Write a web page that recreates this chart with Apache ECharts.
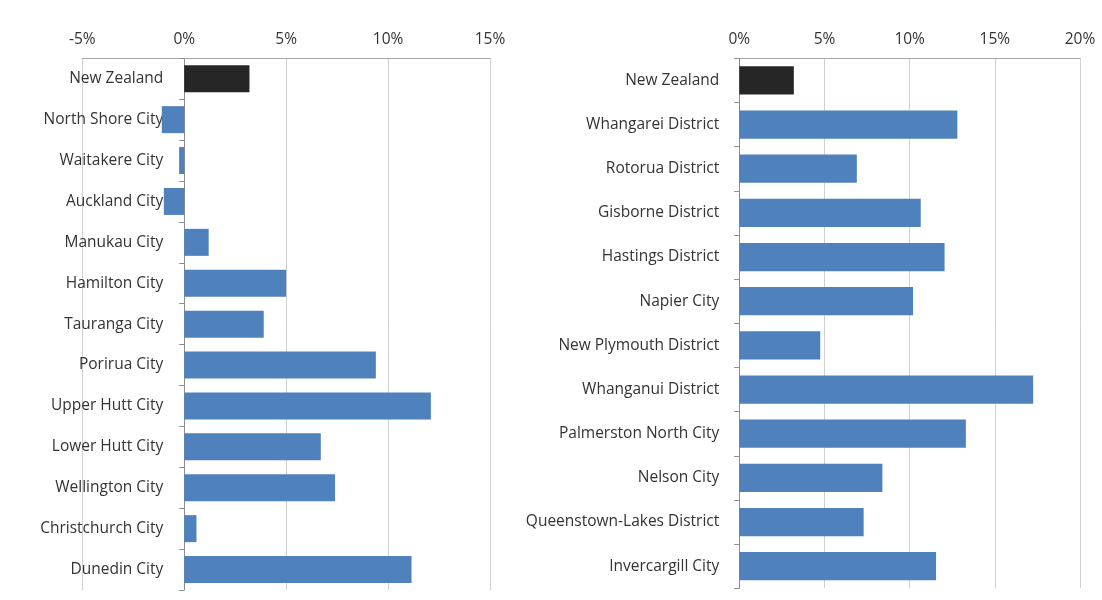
<!DOCTYPE html>
<html>
<head>
<meta charset="utf-8">
<script src="https://cdn.jsdelivr.net/npm/echarts@6/dist/echarts.min.js"></script>
<style>html,body{margin:0;padding:0;background:#fff}#c{width:1102px;height:600px}</style>
</head>
<body>
<div id="c"></div>
<script>
var leftCategories = ["New Zealand","North Shore City","Waitakere City","Auckland City","Manukau City","Hamilton City","Tauranga City","Porirua City","Upper Hutt City","Lower Hutt City","Wellington City","Christchurch City","Dunedin City"];
var leftValues = [3.2,-1.1,-0.25,-1.0,1.2,5.0,3.9,9.4,12.1,6.7,7.4,0.6,11.15];
var rightCategories = ["New Zealand","Whangarei District","Rotorua District","Gisborne District","Hastings District","Napier City","New Plymouth District","Whanganui District","Palmerston North City","Nelson City","Queenstown-Lakes District","Invercargill City"];
var rightValues = [3.2,12.8,6.9,10.65,12.05,10.2,4.75,17.25,13.3,8.4,7.3,11.55];
var leftTicks = {min:-5,max:15,interval:5};
var rightTicks = {min:0,max:20,interval:5};

var BLUE = '#4f81bd', DARK = '#262626';
function toData(vals){
  return vals.map(function(v,i){ return {value:v, itemStyle:{color: i===0 ? DARK : BLUE}}; });
}
var font = '"Open Sans", "Noto Sans", sans-serif';
function xAx(idx, t){
  return {
    type:'value', gridIndex:idx, position:'top', min:t.min, max:t.max, interval:t.interval,
    axisLine:{show:true, lineStyle:{color:'#a6a6a6', width:1}},
    axisTick:{show:false},
    splitLine:{show:true, lineStyle:{color:'#d0d0d0', width:1}},
    axisLabel:{formatter:'{value}%', color:'#333', fontSize:15.5, fontFamily:font, margin:11}
  };
}
function yAx(idx, cats, labelMargin){
  return {
    type:'category', gridIndex:idx, data:cats, inverse:true,
    axisLine:{show:true, onZero:true, lineStyle:{color:'#8c8c8c', width:1}},
    axisTick:{show:true, length:5, lineStyle:{color:'#8c8c8c'}},
    axisLabel:{color:'#333', fontSize:15.5, fontFamily:font, margin:labelMargin, align:'right', padding:[3,0,0,0]}
  };
}
var chart = echarts.init(document.getElementById('c'));
chart.setOption({
  animation:false,
  backgroundColor:'#fff',
  grid:[
    {left:82.3, right:612, top:58.3, bottom:10, containLabel:false, outerBoundsMode:'none'},
    {left:739.3, right:22, top:58.3, bottom:11.7, containLabel:false, outerBoundsMode:'none'}
  ],
  xAxis:[xAx(0,leftTicks), xAx(1,rightTicks)],
  yAxis:[yAx(0,leftCategories,-81), yAx(1,rightCategories,20)],
  series:[
    {type:'bar', xAxisIndex:0, yAxisIndex:0, data:toData(leftValues), barCategoryGap:'34%'},
    {type:'bar', xAxisIndex:1, yAxisIndex:1, data:toData(rightValues), barCategoryGap:'36%'}
  ]
});
</script>
</body>
</html>
